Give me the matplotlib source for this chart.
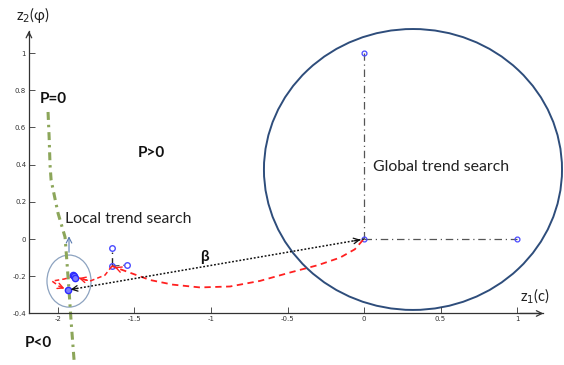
import matplotlib
matplotlib.use("Agg")
import matplotlib.pyplot as plt
from matplotlib.patches import Ellipse

# ---- data ----
xticks = [-2, -1.5, -1, -0.5, 0, 0.5, 1]
xtick_labels = ["-2", "-1.5", "-1", "-0.5", "0", "0.5", "1"]
yticks = [-0.4, -0.2, 0, 0.2, 0.4, 0.6, 0.8, 1]
ytick_labels = ["-0.4", "-0.2", "0", "0.2", "0.4", "0.6", "0.8", "1"]

boundary_x = [-2.065, -2.058, -2.052, -2.045, -2.0, -1.954, -1.941, -1.928, -1.915, -1.895]
boundary_y = [0.683, 0.55, 0.398, 0.317, 0.14, 0.011, -0.129, -0.274, -0.435, -0.65]

global_center = (0.0, 0.0)
global_up = (0.0, 1.0)
global_right = (1.0, 0.0)

mid_center = (-1.647, -0.145)
mid_up = (-1.647, -0.048)
mid_right = (-1.549, -0.140)

cluster_x = [-1.905, -1.898, -1.890, -1.935]
cluster_y = [-0.192, -0.200, -0.207, -0.274]

red_global_x = [-0.007, -0.06, -0.157, -0.30, -0.484, -0.68, -0.876, -1.072, -1.25, -1.399, -1.516, -1.60, -1.647]
red_global_y = [-0.005, -0.055, -0.100, -0.140, -0.180, -0.225, -0.255, -0.260, -0.245, -0.220, -0.185, -0.160, -0.145]

red_mid_x = [-1.647, -1.693, -1.791, -1.882]
red_mid_y = [-0.145, -0.194, -0.226, -0.205]

red_loop_x = [-1.895, -1.96, -2.039, -1.99, -1.94]
red_loop_y = [-0.200, -0.215, -0.226, -0.255, -0.272]

big_circle = dict(center=(0.32, 0.374), w=1.948, h=1.51)
local_circle = dict(center=(-1.928, -0.226), w=0.288, h=0.28)

# ---- figure ----
fig = plt.figure(figsize=(5.64, 3.65), dpi=100)
ax = fig.add_axes([0, 0, 1, 1])
ax.set_xlim(-2.379, 1.307)
ax.set_ylim(-0.677, 1.285)

x_left = -2.19
y_bot = -0.4
ax.spines['left'].set_position(('data', x_left))
ax.spines['bottom'].set_position(('data', y_bot))
ax.spines['left'].set_bounds(y_bot, 1.12)
ax.spines['bottom'].set_bounds(x_left, 1.17)
for s in ['top', 'right']:
    ax.spines[s].set_visible(False)
for s in ['left', 'bottom']:
    ax.spines[s].set_color('#333333')
    ax.spines[s].set_linewidth(0.9)
ax.set_xticks(xticks)
ax.set_xticklabels(xtick_labels)
ax.set_yticks(yticks)
ax.set_yticklabels(ytick_labels)
ax.tick_params(direction='in', length=4, width=0.6, colors='#333333',
               labelsize=5, pad=2)
ax.patch.set_visible(False)

# axis arrows
ax.annotate('', xy=(x_left, 1.134), xytext=(x_left, 1.08),
            arrowprops=dict(arrowstyle='->', color='#333333', lw=0.9), annotation_clip=False)
ax.annotate('', xy=(1.19, y_bot), xytext=(1.0, y_bot),
            arrowprops=dict(arrowstyle='->', color='#333333', lw=0.9), annotation_clip=False)

# circles
ax.add_patch(Ellipse(big_circle['center'], big_circle['w'], big_circle['h'],
                     fill=False, ec='#2e4d7b', lw=1.4))
ax.add_patch(Ellipse(local_circle['center'], local_circle['w'], local_circle['h'],
                     fill=False, ec='#8da3c0', lw=0.9))
# local arrow up
ax.annotate('', xy=(-1.928, 0.03), xytext=(-1.928, -0.086),
            arrowprops=dict(arrowstyle='->', color='#5a7bb0', lw=0.8))

# boundary curve
ax.plot(boundary_x, boundary_y, color='#8ca65a', lw=2.2, ls=(0, (2.6, 1.6, 0.8, 1.6)))

# global search dash-dot
dd = (0, (6, 3, 1, 3))
ax.plot([global_center[0], global_up[0]], [global_center[1], global_up[1]],
        color='#555555', lw=0.9, ls=dd)
ax.plot([global_center[0], global_right[0]], [global_center[1], global_right[1]],
        color='#555555', lw=0.9, ls=dd)
ax.plot([global_center[0], global_up[0], global_right[0]],
        [global_center[1], global_up[1], global_right[1]],
        ls='none', marker='o', ms=3.5, mfc='none', mec='#4b4bff', mew=0.9)

# mid search
ax.plot([mid_center[0], mid_up[0]], [mid_center[1], mid_up[1]],
        color='#222222', lw=1.0, ls=dd)
ax.plot([mid_center[0], mid_right[0]], [mid_center[1], mid_right[1]],
        color='#555555', lw=0.9, ls=dd)
ax.plot([mid_center[0], mid_up[0], mid_right[0]],
        [mid_center[1], mid_up[1], mid_right[1]],
        ls='none', marker='o', ms=4, mfc='none', mec='#4b4bff', mew=1.0)

# red dashed paths
red = '#ff2020'
ax.plot(red_global_x, red_global_y, color=red, lw=1.3, ls=(0, (3.5, 2.5)))
ax.plot(red_mid_x, red_mid_y, color=red, lw=1.1, ls=(0, (3, 2)))
ax.plot(red_loop_x, red_loop_y, color=red, lw=1.1, ls=(0, (3, 2)))
ax.annotate('', xy=(red_global_x[-1], red_global_y[-1]),
            xytext=(red_global_x[-2], red_global_y[-2]),
            arrowprops=dict(arrowstyle='->', color=red, lw=1.0))
ax.annotate('', xy=(red_mid_x[-1], red_mid_y[-1]),
            xytext=(red_mid_x[-2], red_mid_y[-2]),
            arrowprops=dict(arrowstyle='->', color=red, lw=1.0))
ax.annotate('', xy=(red_loop_x[-1], red_loop_y[-1]),
            xytext=(red_loop_x[-2], red_loop_y[-2]),
            arrowprops=dict(arrowstyle='->', color=red, lw=1.0))

# beta dotted line
end = (cluster_x[-1], cluster_y[-1])
ax.plot([global_center[0], end[0]], [global_center[1], end[1]],
        color='#111111', lw=1.1, ls=(0, (1.2, 1.2)))
ax.annotate('', xy=end, xytext=(end[0] + 0.08, end[1] + 0.0113),
            arrowprops=dict(arrowstyle='->', color='#111111', lw=0.9))
ax.annotate('', xy=(-0.005, -0.001), xytext=(-0.085, -0.0125),
            arrowprops=dict(arrowstyle='->', color='#111111', lw=0.9))

# cluster points
ax.plot(cluster_x, cluster_y, ls='none', marker='o', ms=4.5,
        mfc='#7b7bff', mec='#2b2bff', mew=1.0)

# texts
tf = ['Lato', 'DejaVu Sans']
ax.text(-2.12, 0.755, 'P=0', fontsize=11, fontweight='bold', family=tf,
        va='center', ha='left', color='#111111')
ax.text(-1.477, 0.465, 'P>0', fontsize=11, fontweight='bold', family=tf,
        va='center', ha='left', color='#111111')
ax.text(-2.215, -0.56, 'P<0', fontsize=11, fontweight='bold', family=tf,
        va='center', ha='left', color='#111111')
ax.text(-1.955, 0.11, 'Local trend search', fontsize=11.3, family=tf,
        va='center', ha='left', color='#222222')
ax.text(0.06, 0.385, 'Global trend search', fontsize=11.4, family=tf,
        va='center', ha='left', color='#222222')
ax.text(-1.04, -0.097, 'β', fontsize=11, fontweight='bold', family=tf,
        va='center', ha='center', color='#111111')
ax.text(-2.275, 1.207, r'z$_2$(φ)', fontsize=10.5, family=tf,
        va='center', ha='left', color='#222222')
ax.text(1.017, -0.306, r'z$_1$(c)', fontsize=10.5, family=tf,
        va='center', ha='left', color='#222222')

fig.savefig('out.png', dpi=100)
